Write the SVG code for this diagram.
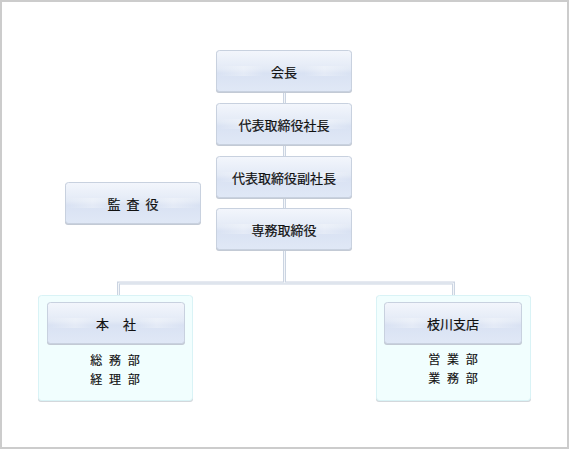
<svg xmlns="http://www.w3.org/2000/svg" width="570" height="450" viewBox="0 0 570 450">
<defs>
<linearGradient id="boxg" x1="0" y1="0" x2="0" y2="1">
<stop offset="0" stop-color="#f3f6fc"/>
<stop offset="0.45" stop-color="#e3eaf6"/>
<stop offset="0.55" stop-color="#d9e2f3"/>
<stop offset="1" stop-color="#e0e8f6"/>
</linearGradient>
<linearGradient id="shine" x1="0" y1="0" x2="1" y2="0">
<stop offset="0" stop-color="#ffffff" stop-opacity="0"/>
<stop offset="0.2" stop-color="#ffffff" stop-opacity="0.3"/>
<stop offset="0.35" stop-color="#ffffff" stop-opacity="0"/>
<stop offset="0.65" stop-color="#ffffff" stop-opacity="0"/>
<stop offset="0.8" stop-color="#ffffff" stop-opacity="0.3"/>
<stop offset="1" stop-color="#ffffff" stop-opacity="0"/>
</linearGradient>
</defs>
<style>
.box{fill:url(#boxg);stroke:#c8d1df;stroke-width:1}
.shadow{fill:#c3cad5}
.cont{fill:#f1fefe;stroke:#d9f3f6;stroke-width:1}
.cshadow{fill:#d3d8dc}
.lbl{font-family:"Noto Sans CJK JP","Noto Sans",sans-serif;font-size:13px;fill:#111111;text-anchor:middle;stroke:#111111;stroke-width:0.2}
.sub{font-family:"Noto Sans CJK JP","Noto Sans",sans-serif;font-size:12px;fill:#111111;text-anchor:middle;word-spacing:4px;stroke:#111111;stroke-width:0.15}
.lo{fill:none;stroke:#cbd4e1;stroke-width:3}
.li{fill:none;stroke:#f2f5f9;stroke-width:1}
</style>
<rect x="1" y="1" width="567" height="447" fill="#ffffff" stroke="#cccccc" stroke-width="2"/>

<g id="connectors">
<path class="lo" d="M284.5 92 V208 M284.5 250 V283 M118.5 296 V283 H453.5 V296"/>
<path class="li" d="M284.5 92 V208 M284.5 250 V283 M118.5 296 V283 H453.5 V296"/>
</g>

<g id="kaicho">
<rect class="shadow" x="216" y="51" width="136" height="42" rx="3"/>
<rect class="box" x="216.5" y="50.5" width="135" height="41" rx="3"/>
<rect x="217" y="66" width="134" height="10" fill="url(#shine)"/>
<text class="lbl" x="284" y="76.5">会長</text>
</g>

<g id="shacho">
<rect class="shadow" x="216" y="104" width="136" height="42" rx="3"/>
<rect class="box" x="216.5" y="103.5" width="135" height="41" rx="3"/>
<rect x="217" y="119" width="134" height="10" fill="url(#shine)"/>
<text class="lbl" x="284" y="129.5">代表取締役社長</text>
</g>

<g id="fukushacho">
<rect class="shadow" x="216" y="157" width="136" height="42" rx="3"/>
<rect class="box" x="216.5" y="156.5" width="135" height="41" rx="3"/>
<rect x="217" y="172" width="134" height="10" fill="url(#shine)"/>
<text class="lbl" x="284" y="182.5">代表取締役副社長</text>
</g>

<g id="senmu">
<rect class="shadow" x="216" y="209" width="136" height="42" rx="3"/>
<rect class="box" x="216.5" y="208.5" width="135" height="41" rx="3"/>
<rect x="217" y="224" width="134" height="10" fill="url(#shine)"/>
<text class="lbl" x="284" y="234.5">専務取締役</text>
</g>

<g id="kansayaku">
<rect class="shadow" x="65" y="183" width="136" height="42" rx="3"/>
<rect class="box" x="65.5" y="182.5" width="135" height="41" rx="3"/>
<rect x="66" y="198" width="134" height="10" fill="url(#shine)"/>
<text class="lbl" x="133" y="208.5" style="word-spacing:3px">監 査 役</text>
</g>

<g id="honsha">
<rect class="cshadow" x="38" y="296" width="155" height="106" rx="3"/>
<rect class="cont" x="38.5" y="295.5" width="154" height="105" rx="3"/>
<rect class="shadow" x="47" y="303" width="138" height="42" rx="3"/>
<rect class="box" x="47.5" y="302.5" width="137" height="41" rx="3"/>
<rect x="48" y="318" width="136" height="10" fill="url(#shine)"/>
<text class="lbl" x="116" y="328.5" style="word-spacing:11px">本 社</text>
<text class="sub" x="115" y="365">総 務 部</text>
<text class="sub" x="115" y="384">経 理 部</text>
</g>

<g id="edagawa">
<rect class="cshadow" x="376" y="296" width="155" height="106" rx="3"/>
<rect class="cont" x="376.5" y="295.5" width="154" height="105" rx="3"/>
<rect class="shadow" x="384" y="303" width="138" height="42" rx="3"/>
<rect class="box" x="384.5" y="302.5" width="137" height="41" rx="3"/>
<rect x="385" y="318" width="136" height="10" fill="url(#shine)"/>
<text class="lbl" x="453" y="328.5">枝川支店</text>
<text class="sub" x="453" y="364">営 業 部</text>
<text class="sub" x="453" y="383">業 務 部</text>
</g>
</svg>
